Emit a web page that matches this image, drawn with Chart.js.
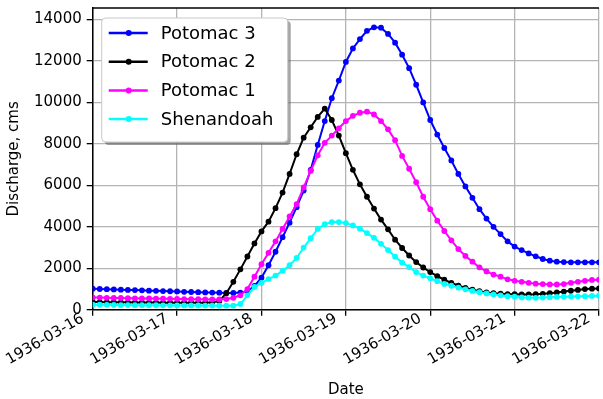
<!DOCTYPE html>
<html lang="en">
<head>
<meta charset="UTF-8" />
<title>Discharge</title>
<script src="https://cdn.jsdelivr.net/npm/chart.js@4.4.0/dist/chart.umd.min.js"></script>
<style>
    html, body { margin: 0; padding: 0; background: #fff; }
</style>
</head>
<body>
<canvas id="myChart" width="603" height="399"></canvas>
<script>
// hours since 1936-03-16 00:00, one reading every 2 hours
const hours = [0, 2, 4, 6, 8, 10, 12, 14, 16, 18, 20, 22, 24, 26, 28, 30, 32, 34, 36, 38, 40, 42, 44, 46, 48,
    50, 52, 54, 56, 58, 60, 62, 64, 66, 68, 70, 72, 74, 76, 78, 80, 82, 84, 86, 88, 90, 92, 94, 96, 98,
    100, 102, 104, 106, 108, 110, 112, 114, 116, 118, 120, 122, 124, 126, 128, 130, 132, 134, 136, 138, 140, 142, 144];

const dateLabels = ['1936-03-16', '1936-03-17', '1936-03-18', '1936-03-19', '1936-03-20', '1936-03-21', '1936-03-22'];
const yTicks = [0, 2000, 4000, 6000, 8000, 10000, 12000, 14000];

const potomac3 = [1020, 1005, 995, 985, 970, 960, 950, 940, 925, 915, 905, 895, 885, 870, 860, 850, 840, 830, 825, 815,
    810, 830, 900, 1150, 1550, 2150, 2800, 3500, 4200, 4950, 5750, 6750, 7950, 9100, 10200, 11050, 11950, 12600, 13050, 13450,
    13620, 13600, 13300, 12880, 12300, 11650, 10850, 10000, 9150, 8450, 7800, 7200, 6550, 5950, 5400, 4850, 4400, 4000, 3650, 3300,
    3050, 2880, 2720, 2580, 2450, 2370, 2320, 2300, 2290, 2290, 2290, 2290, 2290];

const potomac2 = [380, 375, 370, 365, 360, 360, 355, 355, 350, 350, 345, 345, 340, 340, 340, 340, 345, 360, 420, 800,
    1350, 1950, 2570, 3200, 3780, 4250, 4900, 5650, 6550, 7500, 8300, 8800, 9300, 9700, 9150, 8400, 7550, 6750, 6050, 5450,
    4880, 4350, 3880, 3380, 2980, 2620, 2300, 2040, 1820, 1620, 1450, 1300, 1170, 1060, 970, 900, 840, 800, 780, 760,
    750, 740, 740, 750, 770, 800, 840, 880, 920, 960, 1000, 1020, 1030];

const potomac1 = [600, 590, 580, 575, 570, 560, 555, 550, 545, 540, 535, 530, 525, 520, 515, 510, 505, 500, 500, 520,
    580, 700, 1000, 1600, 2200, 2750, 3300, 3900, 4500, 5100, 5900, 6700, 7450, 8050, 8400, 8750, 9100, 9350, 9500, 9550,
    9420, 9100, 8700, 8180, 7420, 6800, 6150, 5450, 4850, 4300, 3800, 3350, 2930, 2600, 2320, 2050, 1850, 1700, 1600, 1470,
    1400, 1350, 1300, 1260, 1240, 1225, 1220, 1240, 1300, 1350, 1400, 1440, 1450];

const shenandoah = [250, 245, 240, 235, 230, 228, 226, 224, 222, 220, 218, 216, 214, 212, 210, 208, 206, 204, 202, 200,
    200, 280, 700, 1100, 1300, 1480, 1650, 1880, 2150, 2500, 3000, 3450, 3900, 4130, 4230, 4230, 4180, 4070, 3910, 3700,
    3470, 3180, 2880, 2560, 2280, 2060, 1820, 1650, 1520, 1380, 1250, 1160, 1070, 990, 910, 850, 790, 740, 700, 660,
    630, 600, 585, 580, 590, 610, 620, 630, 640, 650, 660, 670, 680];

function toPoints(values) {
    return values.map((v, i) => ({ x: hours[i], y: v }));
}

const font = { family: 'DejaVu Sans', size: 15 };

function makeSet(label, color, values, order) {
    return {
        label: label,
        data: toPoints(values),
        borderColor: color,
        backgroundColor: color,
        borderWidth: 2,
        pointRadius: 2.9,
        pointBorderWidth: 0,
        tension: 0,
        fill: false,
        order: order
    };
}

// legend drawn inside the plot, matplotlib style box with a shadow
const legendBox = {
    id: 'legendBox',
    afterDatasetsDraw(chart) {
        const ctx = chart.ctx;
        const area = chart.chartArea;
        const x = area.left + 9, y = area.top + 10, w = 186, h = 124;
        ctx.save();
        ctx.fillStyle = 'rgba(90,90,90,0.55)';
        ctx.beginPath();
        ctx.roundRect(x + 3, y + 3, w, h, 4);
        ctx.fill();
        ctx.fillStyle = '#fff';
        ctx.strokeStyle = '#c8c8c8';
        ctx.lineWidth = 1;
        ctx.beginPath();
        ctx.roundRect(x, y, w, h, 4);
        ctx.fill();
        ctx.stroke();
        ctx.font = '18px "DejaVu Sans"';
        ctx.textBaseline = 'middle';
        chart.data.datasets.forEach((ds, i) => {
            const ry = y + 15 + i * 28.7;
            ctx.strokeStyle = ds.borderColor;
            ctx.lineWidth = 2.5;
            ctx.beginPath();
            ctx.moveTo(x + 7, ry);
            ctx.lineTo(x + 46, ry);
            ctx.stroke();
            ctx.fillStyle = ds.borderColor;
            ctx.beginPath();
            ctx.arc(x + 27, ry, 3, 0, Math.PI * 2);
            ctx.fill();
            ctx.fillStyle = '#000';
            ctx.fillText(ds.label, x + 59, ry + 1);
        });
        ctx.restore();
    },
    afterDraw(chart) {
        // top spine
        const ctx = chart.ctx;
        const area = chart.chartArea;
        ctx.save();
        ctx.strokeStyle = '#000';
        ctx.lineWidth = 1.5;
        ctx.beginPath();
        ctx.moveTo(area.left, area.top);
        ctx.lineTo(area.right, area.top);
        ctx.stroke();
        ctx.restore();
    }
};

const ctx = document.getElementById('myChart').getContext('2d');
const chart = new Chart(ctx, {
    type: 'line',
    data: {
        datasets: [
            makeSet('Potomac 3', '#0000ff', potomac3, 4),
            makeSet('Potomac 2', '#000000', potomac2, 3),
            makeSet('Potomac 1', '#ff00ff', potomac1, 2),
            makeSet('Shenandoah', '#00ffff', shenandoah, 1)
        ]
    },
    options: {
        responsive: false,
        animation: false,
        devicePixelRatio: 1,
        layout: { padding: { top: 8, right: 0, left: 5, bottom: 0 } },
        plugins: {
            legend: { display: false },
            tooltip: { enabled: false }
        },
        scales: {
            x: {
                type: 'linear',
                min: 0,
                max: 144,
                grid: { color: '#b4b4b4', lineWidth: 1.3, tickColor: '#000', tickLength: 6 },
                border: { color: '#000', width: 1.5 },
                ticks: {
                    stepSize: 24,
                    autoSkip: false,
                    minRotation: 30,
                    maxRotation: 30,
                    padding: -6,
                    labelOffset: -10,
                    color: '#000',
                    font: font,
                    callback: (v) => dateLabels[v / 24]
                },
                title: { display: true, text: 'Date', color: '#000', font: font, padding: { top: 18, bottom: 0 } },
                afterFit: (s) => { s.paddingRight = 0; }
            },
            y: {
                min: 0,
                max: 14550,
                grid: { color: '#b4b4b4', lineWidth: 1.3, tickColor: '#000', tickLength: 6 },
                border: { color: '#000', width: 1.5 },
                ticks: { autoSkip: false, padding: 5, color: '#000', font: font, callback: (v) => String(v) },
                afterBuildTicks: (s) => { s.ticks = yTicks.map(v => ({ value: v })); },
                title: { display: true, text: 'Discharge, cms', color: '#000', font: font, padding: { top: 0, bottom: 6 } },
                afterFit: (s) => { s.paddingTop = 0; }
            }
        }
    },
    plugins: [legendBox]
});
</script>
</body>
</html>
